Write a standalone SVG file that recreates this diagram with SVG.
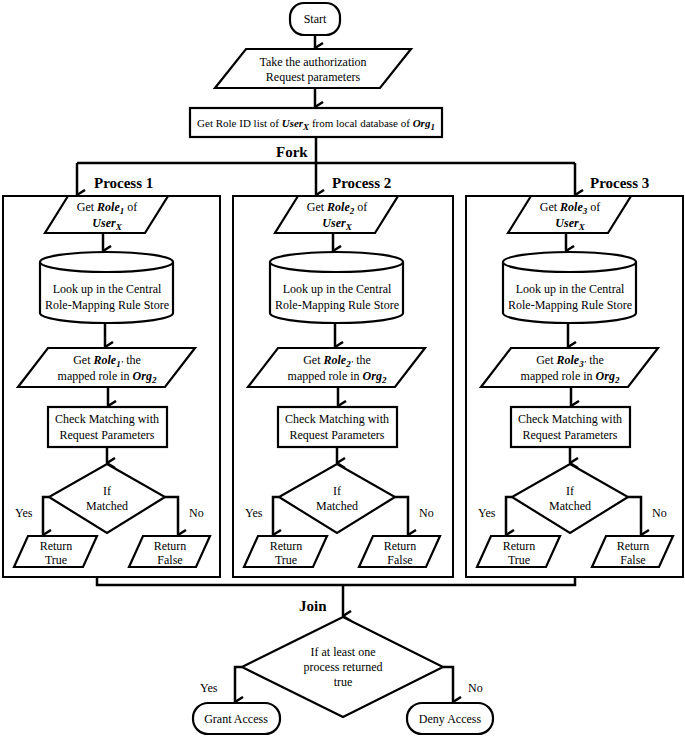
<svg xmlns="http://www.w3.org/2000/svg" width="685" height="737" viewBox="0 0 685 737" font-family="'Liberation Serif', 'DejaVu Serif', serif">
<style>
.s{fill:#fff;stroke:#000;stroke-width:2.2}
.b{fill:none;stroke:#000;stroke-width:2}
.c{fill:none;stroke:#000;stroke-width:2.5}
text{font-family:'Liberation Serif','DejaVu Serif',serif;font-size:12px;fill:#000}
.m{text-anchor:middle}
.h{font-weight:bold;font-size:15px}
.bi{font-weight:bold;font-style:italic}
.sub{font-size:9px}
</style>
<defs>
<marker id="v" viewBox="0 0 12 10" refX="6" refY="9" markerWidth="12" markerHeight="10" orient="auto-start-reverse" markerUnits="userSpaceOnUse"><path d="M1,1 L6,9 L11,1" fill="none" stroke="#000" stroke-width="2.5"/></marker>
</defs>
<g id="connectors">
<path class="c" d="M315,35 V48" marker-end="url(#v)"/>
<path class="c" d="M315,88 V107" marker-end="url(#v)"/>
<path class="c" d="M316,137 V163 M77,163 H575"/>
<path class="c" d="M77,163 V195" marker-end="url(#v)"/>
<path class="c" d="M316,163 V195" marker-end="url(#v)"/>
<path class="c" d="M575,163 V195" marker-end="url(#v)"/>
<path class="c" d="M97,577 V585 H575 V577"/>
<path class="c" d="M343,585 V616" marker-end="url(#v)"/>
<path class="c" d="M242,667 H235 V702" marker-end="url(#v)"/>
<path class="c" d="M443,667 H453 V702" marker-end="url(#v)"/>
</g>
<g id="start"><rect class="s" x="290" y="3" width="50" height="32" rx="14"/><text class="m" x="315" y="23">Start</text></g>
<g id="take"><path class="s" d="M246,49 H411 L380,88 H215 Z"/><text class="m" x="313" y="66">Take the authorization</text><text class="m" x="313" y="81">Request parameters</text></g>
<g id="getlist"><rect class="s" x="190" y="108" width="252" height="29"/><text class="m" x="316" y="127" style="font-size:11px">Get Role ID list of <tspan class="bi">User</tspan><tspan class="bi sub" dy="3">X</tspan><tspan dy="-3"> from local database of </tspan><tspan class="bi">Org</tspan><tspan class="bi sub" dy="3">1</tspan></text></g>
<text class="h" x="276" y="157">Fork</text>
<text class="h" x="94" y="188">Process 1</text>
<text class="h" x="332" y="188">Process 2</text>
<text class="h" x="590" y="188">Process 3</text>

<g id="process1">
<rect class="b" x="3" y="196" width="217" height="381"/>
<path class="s" d="M68,196 H168 L145,233 H45 Z"/>
<text class="m" x="107" y="211">Get <tspan class="bi">Role</tspan><tspan class="bi sub" dy="3">1</tspan><tspan dy="-3"> of</tspan></text>
<text class="m" x="107" y="227"><tspan class="bi">User</tspan><tspan class="bi sub" dy="3">X</tspan></text>
<path class="c" d="M103,233 V251" marker-end="url(#v)"/>
<path class="s" d="M40,262 V313 A66.5,10 0 0 0 173,313 V262"/>
<ellipse class="s" cx="106.5" cy="262" rx="66.5" ry="10"/>
<text class="m" x="107" y="293">Look up in the Central</text>
<text class="m" x="107" y="309">Role-Mapping Rule Store</text>
<path class="c" d="M105,323 V347" marker-end="url(#v)"/>
<path class="s" d="M48,348 H195 L165,387 H18 Z"/>
<text class="m" x="107" y="364">Get <tspan class="bi">Role</tspan><tspan class="bi sub" dy="3">1'</tspan><tspan dy="-3"> the</tspan></text>
<text class="m" x="107" y="380">mapped role in <tspan class="bi">Org</tspan><tspan class="bi sub" dy="3">2</tspan></text>
<path class="c" d="M108,387 V406" marker-end="url(#v)"/>
<rect class="s" x="48" y="407" width="119" height="40"/>
<text class="m" x="107" y="423">Check Matching with</text>
<text class="m" x="107" y="439">Request Parameters</text>
<path class="c" d="M107,447 V463" marker-end="url(#v)"/>
<path class="s" d="M107,464 L165,497 L107,533 L49,497 Z"/>
<text class="m" x="107" y="495">If</text>
<text class="m" x="107" y="510">Matched</text>
<path class="c" d="M49,497 H43 V535" marker-end="url(#v)"/>
<path class="c" d="M165,497 H178 V535" marker-end="url(#v)"/>
<text x="15" y="517">Yes</text>
<text x="189" y="517">No</text>
<path class="s" d="M28,536 H97 L83,567 H14 Z"/>
<text class="m" x="56" y="550">Return</text><text class="m" x="56" y="564">True</text>
<path class="s" d="M143,536 H210 L196,567 H129 Z"/>
<text class="m" x="170" y="550">Return</text><text class="m" x="170" y="564">False</text>
</g>

<g id="process2" transform="translate(230,0)">
<rect class="b" x="3" y="196" width="220" height="381"/>
<path class="s" d="M68,196 H168 L145,233 H45 Z"/>
<text class="m" x="107" y="211">Get <tspan class="bi">Role</tspan><tspan class="bi sub" dy="3">2</tspan><tspan dy="-3"> of</tspan></text>
<text class="m" x="107" y="227"><tspan class="bi">User</tspan><tspan class="bi sub" dy="3">X</tspan></text>
<path class="c" d="M103,233 V251" marker-end="url(#v)"/>
<path class="s" d="M40,262 V313 A66.5,10 0 0 0 173,313 V262"/>
<ellipse class="s" cx="106.5" cy="262" rx="66.5" ry="10"/>
<text class="m" x="107" y="293">Look up in the Central</text>
<text class="m" x="107" y="309">Role-Mapping Rule Store</text>
<path class="c" d="M105,323 V347" marker-end="url(#v)"/>
<path class="s" d="M48,348 H195 L165,387 H18 Z"/>
<text class="m" x="107" y="364">Get <tspan class="bi">Role</tspan><tspan class="bi sub" dy="3">2'</tspan><tspan dy="-3"> the</tspan></text>
<text class="m" x="107" y="380">mapped role in <tspan class="bi">Org</tspan><tspan class="bi sub" dy="3">2</tspan></text>
<path class="c" d="M108,387 V406" marker-end="url(#v)"/>
<rect class="s" x="48" y="407" width="119" height="40"/>
<text class="m" x="107" y="423">Check Matching with</text>
<text class="m" x="107" y="439">Request Parameters</text>
<path class="c" d="M107,447 V463" marker-end="url(#v)"/>
<path class="s" d="M107,464 L165,497 L107,533 L49,497 Z"/>
<text class="m" x="107" y="495">If</text>
<text class="m" x="107" y="510">Matched</text>
<path class="c" d="M49,497 H43 V535" marker-end="url(#v)"/>
<path class="c" d="M165,497 H178 V535" marker-end="url(#v)"/>
<text x="15" y="517">Yes</text>
<text x="189" y="517">No</text>
<path class="s" d="M28,536 H97 L83,567 H14 Z"/>
<text class="m" x="56" y="550">Return</text><text class="m" x="56" y="564">True</text>
<path class="s" d="M143,536 H210 L196,567 H129 Z"/>
<text class="m" x="170" y="550">Return</text><text class="m" x="170" y="564">False</text>
</g>

<g id="process3" transform="translate(463,0)">
<rect class="b" x="3" y="196" width="217" height="381"/>
<path class="s" d="M68,196 H168 L145,233 H45 Z"/>
<text class="m" x="107" y="211">Get <tspan class="bi">Role</tspan><tspan class="bi sub" dy="3">3</tspan><tspan dy="-3"> of</tspan></text>
<text class="m" x="107" y="227"><tspan class="bi">User</tspan><tspan class="bi sub" dy="3">X</tspan></text>
<path class="c" d="M103,233 V251" marker-end="url(#v)"/>
<path class="s" d="M40,262 V313 A66.5,10 0 0 0 173,313 V262"/>
<ellipse class="s" cx="106.5" cy="262" rx="66.5" ry="10"/>
<text class="m" x="107" y="293">Look up in the Central</text>
<text class="m" x="107" y="309">Role-Mapping Rule Store</text>
<path class="c" d="M105,323 V347" marker-end="url(#v)"/>
<path class="s" d="M48,348 H195 L165,387 H18 Z"/>
<text class="m" x="107" y="364">Get <tspan class="bi">Role</tspan><tspan class="bi sub" dy="3">3'</tspan><tspan dy="-3"> the</tspan></text>
<text class="m" x="107" y="380">mapped role in <tspan class="bi">Org</tspan><tspan class="bi sub" dy="3">2</tspan></text>
<path class="c" d="M108,387 V406" marker-end="url(#v)"/>
<rect class="s" x="48" y="407" width="119" height="40"/>
<text class="m" x="107" y="423">Check Matching with</text>
<text class="m" x="107" y="439">Request Parameters</text>
<path class="c" d="M107,447 V463" marker-end="url(#v)"/>
<path class="s" d="M107,464 L165,497 L107,533 L49,497 Z"/>
<text class="m" x="107" y="495">If</text>
<text class="m" x="107" y="510">Matched</text>
<path class="c" d="M49,497 H43 V535" marker-end="url(#v)"/>
<path class="c" d="M165,497 H178 V535" marker-end="url(#v)"/>
<text x="15" y="517">Yes</text>
<text x="189" y="517">No</text>
<path class="s" d="M28,536 H97 L83,567 H14 Z"/>
<text class="m" x="56" y="550">Return</text><text class="m" x="56" y="564">True</text>
<path class="s" d="M143,536 H210 L196,567 H129 Z"/>
<text class="m" x="170" y="550">Return</text><text class="m" x="170" y="564">False</text>
</g>

<text class="h" x="299" y="611">Join</text>
<g id="decision"><path class="s" d="M343,617 L443,667 L343,717 L242,667 Z"/>
<text class="m" x="343" y="656">If at least one</text>
<text class="m" x="343" y="671">process returned</text>
<text class="m" x="343" y="686">true</text></g>
<text x="200" y="692">Yes</text>
<text x="468" y="692">No</text>
<g id="grant"><rect class="s" x="193" y="703" width="87" height="31" rx="15"/><text class="m" x="236" y="723">Grant Access</text></g>
<g id="deny"><rect class="s" x="407" y="703" width="86" height="31" rx="15"/><text class="m" x="450" y="723">Deny Access</text></g>
</svg>
